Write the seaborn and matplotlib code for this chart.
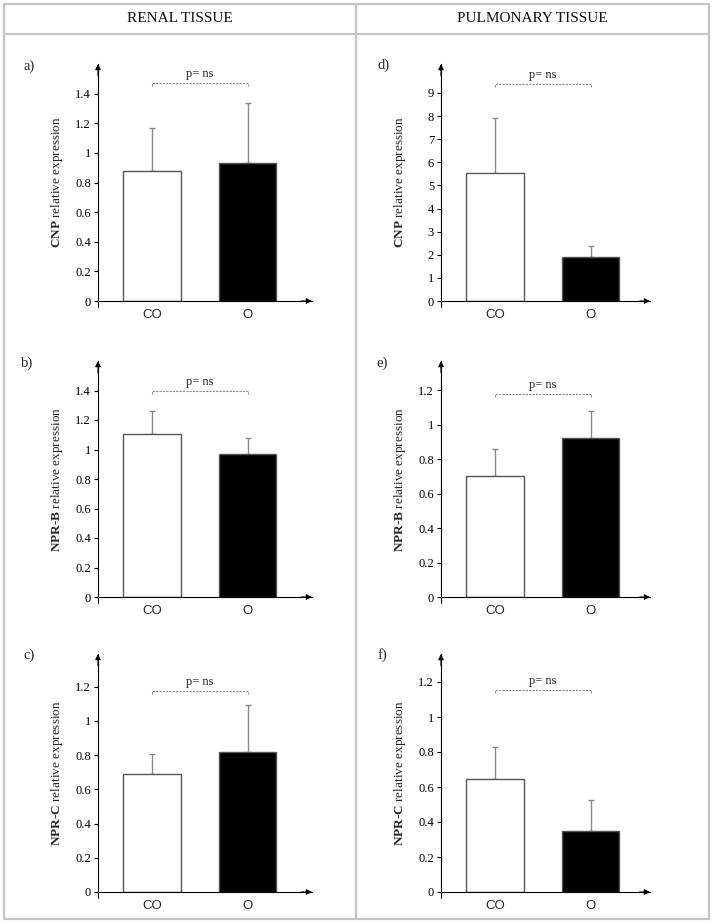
import matplotlib
matplotlib.use("Agg")
import matplotlib.pyplot as plt
import seaborn as sns
import pandas as pd
import numpy as np
from matplotlib.lines import Line2D

sns.set_theme(style="white")
plt.rcParams['font.family'] = ['Liberation Serif', 'DejaVu Serif']
plt.rcParams['mathtext.fontset'] = 'custom'
plt.rcParams['mathtext.rm'] = 'Liberation Serif'
plt.rcParams['mathtext.bf'] = 'Liberation Serif:bold'

# ---------------- data ----------------
groups = ["CO", "O"]
column_titles = ["RENAL TISSUE", "PULMONARY TISSUE"]
panel_letters = ["a)", "b)", "c)", "d)", "e)", "f)"]
genes = ["CNP", "NPR-B", "NPR-C", "CNP", "NPR-B", "NPR-C"]

renal_cnp_mean = [0.875, 0.935]
renal_cnp_err = [0.29, 0.40]
renal_nprb_mean = [1.108, 0.97]
renal_nprb_err = [0.155, 0.11]
renal_nprc_mean = [0.687, 0.815]
renal_nprc_err = [0.12, 0.28]
pulm_cnp_mean = [5.54, 1.90]
pulm_cnp_err = [2.38, 0.48]
pulm_nprb_mean = [0.70, 0.923]
pulm_nprb_err = [0.16, 0.155]
pulm_nprc_mean = [0.646, 0.35]
pulm_nprc_err = [0.18, 0.175]

means = [renal_cnp_mean, renal_nprb_mean, renal_nprc_mean,
         pulm_cnp_mean, pulm_nprb_mean, pulm_nprc_mean]
errs = [renal_cnp_err, renal_nprb_err, renal_nprc_err,
        pulm_cnp_err, pulm_nprb_err, pulm_nprc_err]
y_max = [1.6, 1.6, 1.39, 10.25, 1.37, 1.36]
y_ticks = [[0, 0.2, 0.4, 0.6, 0.8, 1, 1.2, 1.4],
           [0, 0.2, 0.4, 0.6, 0.8, 1, 1.2, 1.4],
           [0, 0.2, 0.4, 0.6, 0.8, 1, 1.2],
           [0, 1, 2, 3, 4, 5, 6, 7, 8, 9],
           [0, 0.2, 0.4, 0.6, 0.8, 1, 1.2],
           [0, 0.2, 0.4, 0.6, 0.8, 1, 1.2]]
bracket_y = [1.47, 1.40, 1.176, 9.39, 1.177, 1.154]
p_text = "p= ns"

# ---------------- layout (pixels) ----------------
W, H = 714, 923
fig = plt.figure(figsize=(W / 100, H / 100), dpi=100)

col_lr = [(98, 312), (441, 650)]
row_tb = [(64, 301), (361, 597), (654, 892)]
letter_pos = [(29, 66), (27, 363), (29, 655), (384, 65), (382, 363), (382, 655)]
cat_spacing = 95.5
first_offset = 54

def fx(x):
    return x / W

def fy(y):
    return 1 - y / H

# table borders
border_col = "#c4c4c4"
for (x0, y0, x1, y1) in [(4, 4, 709, 4), (4, 919, 709, 919), (4, 4, 4, 919),
                         (709, 4, 709, 919), (4, 34, 709, 34), (356, 4, 356, 919)]:
    fig.add_artist(Line2D([fx(x0), fx(x1)], [fy(y0), fy(y1)], color=border_col,
                          lw=1.6, transform=fig.transFigure))

fig.text(fx(180), fy(19), column_titles[0], ha="center", va="center", fontsize=11,
         color="#111111")
fig.text(fx(532), fy(19), column_titles[1], ha="center", va="center", fontsize=11,
         color="#111111")

for i in range(6):
    col = i // 3
    row = i % 3
    L, R = col_lr[col]
    T, B = row_tb[row]
    ax = fig.add_axes([fx(L), fy(B), (R - L) / W, (B - T) / H])
    df = pd.DataFrame({"group": groups, "value": means[i]})
    sns.barplot(data=df, x="group", y="value", hue="group",
                palette=["white", "black"], edgecolor="#555555", linewidth=1.0,
                width=0.6, errorbar=None, legend=False, ax=ax, zorder=2)
    ax.errorbar([0, 1], means[i], yerr=[[0, 0], errs[i]], fmt="none",
                ecolor="#8a8a8a", elinewidth=1.0, capsize=2, capthick=1.0, zorder=1)

    xl = -first_offset / cat_spacing
    xr = xl + (R - L) / cat_spacing
    ax.set_xlim(xl, xr)
    ax.set_ylim(0, y_max[i])
    ax.set_yticks(y_ticks[i])
    ax.set_yticklabels(["{:g}".format(t) for t in y_ticks[i]])
    for s in ["top", "right"]:
        ax.spines[s].set_visible(False)
    for s in ["left", "bottom"]:
        ax.spines[s].set_color("black")
        ax.spines[s].set_linewidth(0.8)
    ax.tick_params(axis="y", left=True, length=3, width=0.8, direction="out",
                   labelsize=9, pad=2, colors="black")
    ax.tick_params(axis="x", bottom=False, length=0, labelsize=9.5, pad=6)
    for lab in ax.get_xticklabels():
        lab.set_family("Liberation Sans")
    ax.set_xlabel("")
    g = genes[i].split("-")
    if len(g) == 1:
        ylab = r"$\mathbf{" + g[0] + r"}$ relative expression"
    else:
        ylab = r"$\mathbf{" + g[0] + r"}$-$\mathbf{" + g[1] + r"}$ relative expression"
    ax.set_ylabel(ylab, fontsize=9.5)
    ax.yaxis.set_label_coords(-33 / (R - L), 0.5)

    # arrows on axes
    ax.annotate("", xy=(0, 1.0), xytext=(0, 0.95), xycoords="axes fraction",
                arrowprops=dict(arrowstyle="-|>", color="black", lw=0.8,
                                mutation_scale=8, shrinkA=0, shrinkB=0))
    ax.annotate("", xy=(1.0, 0), xytext=(0.95, 0), xycoords="axes fraction",
                arrowprops=dict(arrowstyle="-|>", color="black", lw=0.8,
                                mutation_scale=8, shrinkA=0, shrinkB=0))
    ax.plot([0, 0], [0, -0.025], transform=ax.transAxes, clip_on=False,
            color="black", lw=0.8)

    # significance bracket
    by = bracket_y[i]
    d = y_max[i] * 3 / (B - T)
    ax.plot([0, 0, 1, 1], [by - d, by, by, by - d], color="#8a8a8a", lw=0.8,
            ls=(0, (2, 1)), clip_on=False)
    ax.annotate(p_text, xy=(0.5, by), xytext=(0, 2), textcoords="offset points",
                ha="center", va="bottom", fontsize=9, annotation_clip=False)

    lx, ly = letter_pos[i]
    fig.text(fx(lx), fy(ly), panel_letters[i], ha="center", va="center", fontsize=10.5)

fig.savefig("out.png", dpi=100)
